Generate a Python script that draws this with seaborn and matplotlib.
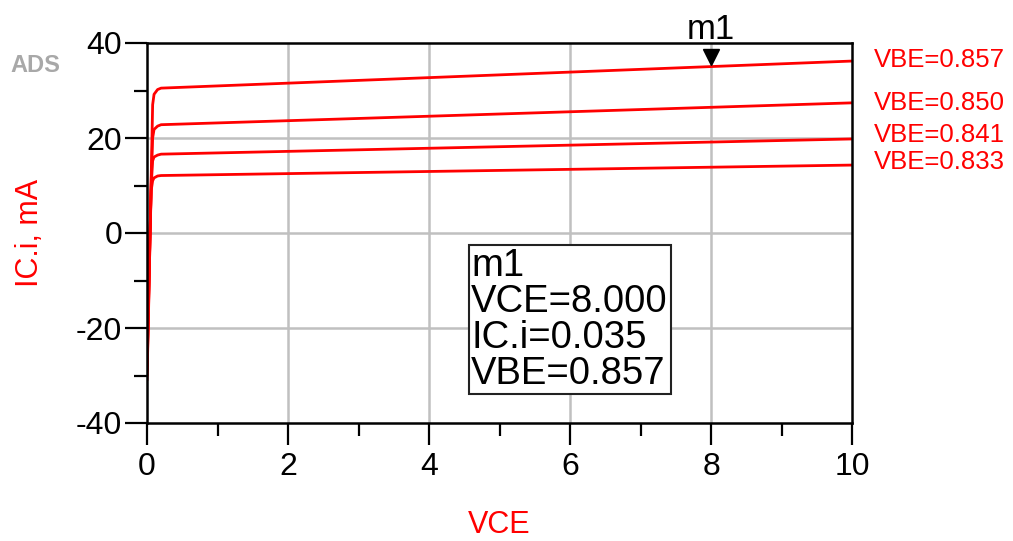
import matplotlib
matplotlib.use("Agg")
import matplotlib.pyplot as plt
from matplotlib.ticker import MultipleLocator
import seaborn as sns
import pandas as pd

# ---- data ----
vce = [0, 0.02, 0.04, 0.06, 0.08, 0.10, 0.15, 0.20, 10]
ic_0857 = [-31, -18, -3, 12, 27.0, 29.2, 30.2, 30.5, 36.2]
ic_0850 = [-30, -17, -3, 11, 20.0, 21.8, 22.5, 22.8, 27.4]
ic_0841 = [-29, -16, -2, 10, 15.2, 16.0, 16.4, 16.6, 19.8]
ic_0833 = [-28, -15, -2, 9, 11.0, 11.6, 12.0, 12.1, 14.3]
vbe_labels = ["VBE=0.857", "VBE=0.850", "VBE=0.841", "VBE=0.833"]
label_y = [36.4, 27.4, 20.6, 14.9]
x_ticks = [0, 2, 4, 6, 8, 10]
y_ticks = [-40, -20, 0, 20, 40]
marker_x, marker_y = 8.0, 35.0
marker_lines = ["m1", "VCE=8.000", "IC.i=0.035", "VBE=0.857"]

series = [ic_0857, ic_0850, ic_0841, ic_0833]
rows = []
for lab, ys in zip(vbe_labels, series):
    for x, y in zip(vce, ys):
        rows.append({"VCE": x, "IC": y, "VBE": lab})
df = pd.DataFrame(rows)

sns.set_style("white")
plt.rcParams["font.family"] = ["Liberation Sans", "DejaVu Sans"]
plt.rcParams["axes.unicode_minus"] = False

fig = plt.figure(figsize=(10.13, 5.41), dpi=100)
ax = fig.add_axes([147/1013, 1-423/541, (852-147)/1013, (423-43)/541])

sns.lineplot(data=df, x="VCE", y="IC", hue="VBE", palette=["#ff0000"]*4,
             linewidth=2.0, legend=False, ax=ax, sort=False, estimator=None)

ax.set_xlim(0, 10)
ax.set_ylim(-40, 40)
ax.set_xticks(x_ticks)
ax.set_yticks(y_ticks)
ax.xaxis.set_minor_locator(MultipleLocator(1))
ax.yaxis.set_minor_locator(MultipleLocator(10))
ax.tick_params(which="major", direction="out", length=16, width=1.6,
               labelsize=23, color="black", labelcolor="black", pad=2)
ax.tick_params(axis="x", which="major", pad=5)
ax.tick_params(which="minor", direction="out", length=9.5, width=1.6, color="black")
ax.tick_params(left=True, bottom=True, which="both")
for s in ax.spines.values():
    s.set_visible(True)
    s.set_color("black")
    s.set_linewidth(1.8)

# grid only at interior majors
for gx in [2, 4, 6, 8]:
    ax.axvline(gx, color="#c0c0c0", lw=1.8, zorder=0)
for gy in [-20, 0, 20]:
    ax.axhline(gy, color="#c0c0c0", lw=1.8, zorder=0)

ax.set_xlabel("VCE", color="#ff0000", fontsize=22, labelpad=20)
ax.set_ylabel("IC.i, mA", color="#ff0000", fontsize=22, labelpad=22)

for lab, ly in zip(vbe_labels, label_y):
    ax.text(10.31, ly, lab, color="#ff0000", fontsize=18.5, va="center",
            ha="left", clip_on=False)

# marker
ax.plot([marker_x], [marker_y + 2.0], marker="v", color="black", markersize=12,
        clip_on=False, zorder=5)
ax.text(marker_x, 40.8, "m1", fontsize=25, ha="center", va="baseline", color="black")

# marker readout box
ax.text(4.60, -33.4, "\n".join(marker_lines), fontsize=27.5, ha="left", va="bottom",
        color="black", linespacing=1.0,
        bbox=dict(boxstyle="square,pad=0.07", fc="white", ec="#222222", lw=1.5),
        zorder=6)

fig.text(10/1013, 1-66/541, "ADS", fontsize=17, color="#a8a8a8", va="center",
         ha="left", fontweight="bold")

fig.savefig("out.png", dpi=100)
